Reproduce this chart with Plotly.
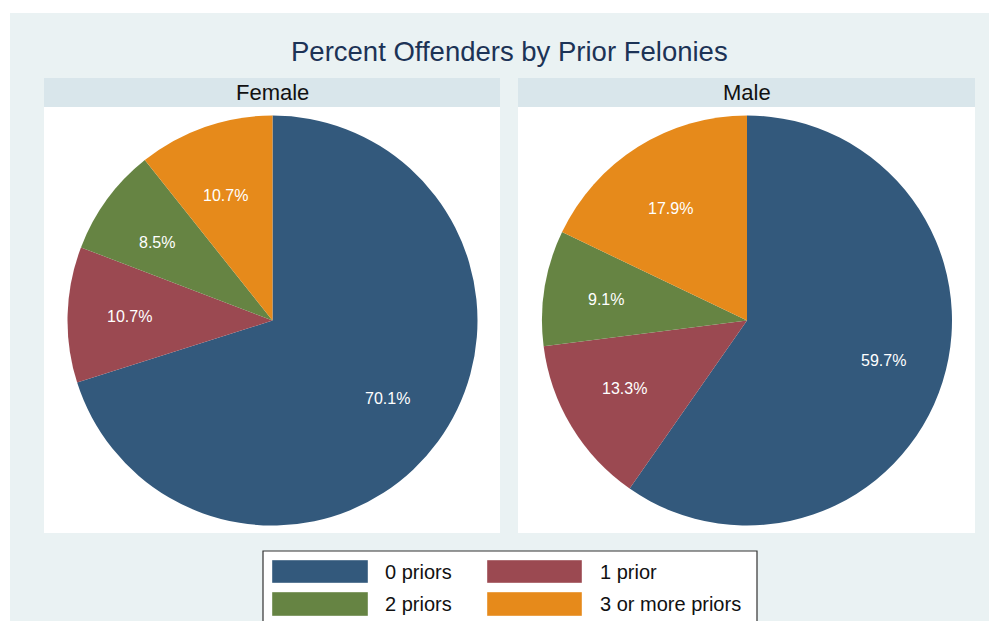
import math
import plotly.graph_objects as go

# ---- data ----
categories = ["0 priors", "1 prior", "2 priors", "3 or more priors"]
panels = ["Female", "Male"]
female_pct = [70.1, 10.7, 8.5, 10.7]
male_pct = [59.7, 13.3, 9.1, 17.9]
title_text = "Percent Offenders by Prior Felonies"

colors = ["#33597C", "#9B4951", "#668443", "#E68A1B"]

W, H = 989, 621
FONT = "Liberation Sans, Arial, sans-serif"


def px(x):
    return x / W


def py(y):
    return 1 - y / H


fig = go.Figure()

shapes = []
annotations = []

# pie geometry (pixels)
centers = [(272.5, 320.5), (747.0, 320.5)]
R = 205
LAB_RX, LAB_RY = 143, 132  # label distance from centre (about 2/3 of radius)
for name, vals, (cx, cy) in zip(panels, [female_pct, male_pct], centers):
    fig.add_trace(go.Pie(
        labels=categories,
        values=vals,
        name=name,
        sort=False,
        direction="clockwise",
        rotation=0,
        marker=dict(colors=colors, line=dict(width=0)),
        textinfo="none",
        domain=dict(x=[px(cx - R), px(cx + R)], y=[py(cy + R), py(cy - R)]),
        showlegend=False,
        hoverinfo="label+value",
    ))
    # percentage labels at mid-angle of each slice
    total = sum(vals)
    cum = 0.0
    for v in vals:
        mid = (cum + v / 2) / total * 2 * math.pi
        cum += v
        lx = cx + LAB_RX * math.sin(mid)
        ly = cy - LAB_RY * math.cos(mid)
        annotations.append(dict(xref="paper", yref="paper", x=px(lx), y=py(ly),
                                text=f"{v:.1f}%", showarrow=False,
                                xanchor="center", yanchor="middle",
                                font=dict(family=FONT, size=16, color="white")))

# outer background
shapes.append(dict(type="rect", xref="paper", yref="paper", layer="below",
                   x0=px(10), x1=1.0, y0=0, y1=py(13),
                   fillcolor="#EAF2F3", line=dict(width=0)))

# panels
panel_x = [(44, 500), (518, 975)]
for name, (x0, x1) in zip(panels, panel_x):
    shapes.append(dict(type="rect", xref="paper", yref="paper", layer="below",
                       x0=px(x0), x1=px(x1), y0=py(533), y1=py(107),
                       fillcolor="white", line=dict(width=0)))
    shapes.append(dict(type="rect", xref="paper", yref="paper", layer="below",
                       x0=px(x0), x1=px(x1), y0=py(107), y1=py(78),
                       fillcolor="#D9E6EB", line=dict(width=0)))
    annotations.append(dict(xref="paper", yref="paper", x=px((x0 + x1) / 2), y=py(92.5),
                            text=name, showarrow=False, xanchor="center", yanchor="middle",
                            font=dict(family=FONT, size=22, color="#111111")))

# title
annotations.append(dict(xref="paper", yref="paper", x=px(509), y=py(51),
                        text=title_text, showarrow=False, xanchor="center", yanchor="middle",
                        font=dict(family=FONT, size=27.5, color="#1C3356")))

# legend (manual, to reproduce large swatches)
shapes.append(dict(type="rect", xref="paper", yref="paper", layer="above",
                   x0=px(263), x1=px(757), y0=py(630), y1=py(551),
                   fillcolor="white", line=dict(width=1.2, color="#333333")))
sw_x = [(272, 368), (487, 582)]
txt_x = [383, 598]
row_y = [(560, 583), (592, 616)]
for i, (cat, col) in enumerate(zip(categories, colors)):
    r, c = divmod(i, 2)
    x0, x1 = sw_x[c]
    y0, y1 = row_y[r]
    shapes.append(dict(type="rect", xref="paper", yref="paper", layer="above",
                       x0=px(x0), x1=px(x1), y0=py(y1), y1=py(y0),
                       fillcolor=col, line=dict(width=0.8, color="rgba(255,255,255,0.5)")))
    annotations.append(dict(xref="paper", yref="paper", x=px(txt_x[c]), y=py((y0 + y1) / 2),
                            text=cat, showarrow=False, xanchor="left", yanchor="middle",
                            font=dict(family=FONT, size=20, color="#111111")))

fig.update_layout(
    width=W, height=H,
    margin=dict(l=0, r=0, t=0, b=0),
    paper_bgcolor="white",
    plot_bgcolor="white",
    shapes=shapes,
    annotations=annotations,
    showlegend=False,
)

fig.write_html(
    "out.html",
    config={"displayModeBar": False},
    post_script="document.body.style.margin='0px';document.body.style.padding='0px';"
                "document.body.style.overflow='hidden';",
)
